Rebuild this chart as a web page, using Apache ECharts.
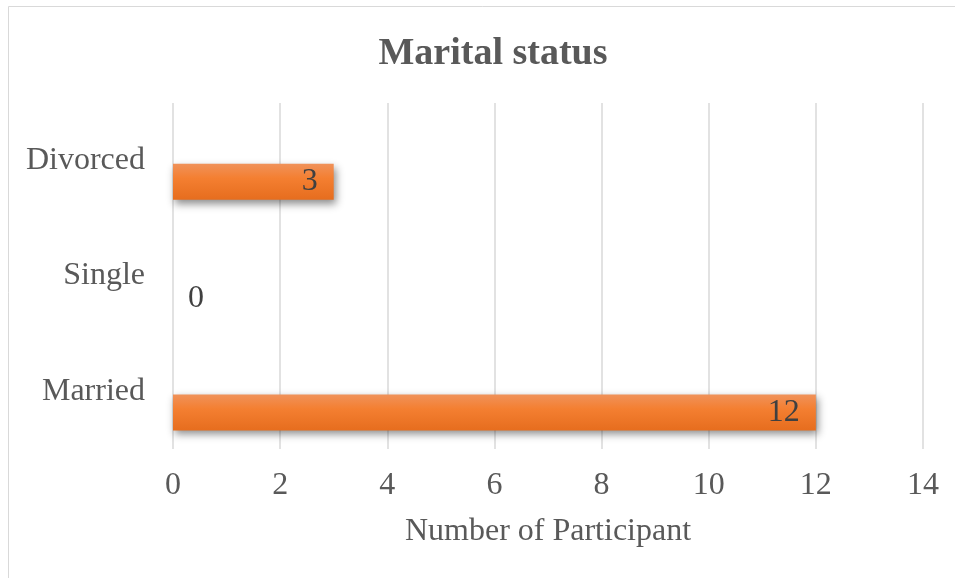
<!DOCTYPE html>
<html>
<head>
<meta charset="utf-8">
<script src="https://cdn.jsdelivr.net/npm/echarts@6/dist/echarts.min.js"></script>
<style>
  html, body { margin: 0; padding: 0; background: #fff; }
  #chart { width: 955px; height: 578px; }
</style>
</head>
<body>
<div id="chart"></div>
<script>
var categories = ['Married', 'Single', 'Divorced'];
var participants = [12, 0, 3];
var spacer = [null, null, null];

var myChart = echarts.init(document.getElementById('chart'));

var serif = '"Liberation Serif", "Times New Roman", serif';
var textGrey = '#595959';

var barFill = new echarts.graphic.LinearGradient(0, 0, 0, 1, [
  { offset: 0, color: '#f0925a' },
  { offset: 0.4, color: '#f47f31' },
  { offset: 1, color: '#e66d1e' }
]);

var option = {
  backgroundColor: '#fff',
  title: {
    text: 'Marital status',
    left: 488,
    top: 30,
    textAlign: 'center',
    textStyle: {
      fontFamily: serif,
      fontSize: 38,
      fontWeight: 'bold',
      color: textGrey
    }
  },
  graphic: [{
    type: 'rect',
    shape: { x: 8.5, y: 6.5, width: 960, height: 600 },
    style: { fill: 'none', stroke: '#d9d9d9', lineWidth: 1 },
    silent: true
  }],
  grid: {
    left: 173,
    right: 32,
    top: 103,
    bottom: 129,
    containLabel: false
  },
  xAxis: {
    type: 'value',
    min: 0,
    max: 14,
    interval: 2,
    name: 'Number of Participant',
    nameLocation: 'middle',
    nameGap: 67,
    nameTextStyle: {
      fontFamily: serif,
      fontSize: 32,
      color: textGrey
    },
    axisLine: { show: false },
    axisTick: { show: false },
    axisLabel: {
      margin: 21,
      fontFamily: serif,
      fontSize: 32,
      color: textGrey
    },
    splitLine: {
      lineStyle: { color: '#d9d9d9', width: 1.5 }
    }
  },
  yAxis: {
    type: 'category',
    data: categories,
    axisLine: { show: false },
    axisTick: { show: false },
    axisLabel: {
      margin: 28,
      fontFamily: serif,
      fontSize: 32,
      color: textGrey
    }
  },
  series: [{
    name: 'spacer',
    type: 'bar',
    data: spacer,
    barWidth: 36,
    barGap: '17%',
    silent: true
  }, {
    name: 'Participants',
    type: 'bar',
    data: participants,
    barWidth: 36,
    barGap: '17%',
    itemStyle: {
      color: barFill,
      shadowColor: 'rgba(0, 0, 0, 0.45)',
      shadowBlur: 8,
      shadowOffsetX: 2,
      shadowOffsetY: 4
    },
    label: {
      show: true,
      position: 'insideRight',
      distance: 16,
      fontFamily: serif,
      fontSize: 32,
      color: '#404040',
      formatter: function(p) {
        return p.value;
      }
    },
    labelLayout: function(params) {
      if (params.rect.width < 1) {
        return {
          x: params.rect.x + 15,
          y: params.rect.y + params.rect.height / 2 + 2,
          align: 'left',
          verticalAlign: 'middle'
        };
      }
      return {};
    }
  }]
};

myChart.setOption(option);
</script>
</body>
</html>
